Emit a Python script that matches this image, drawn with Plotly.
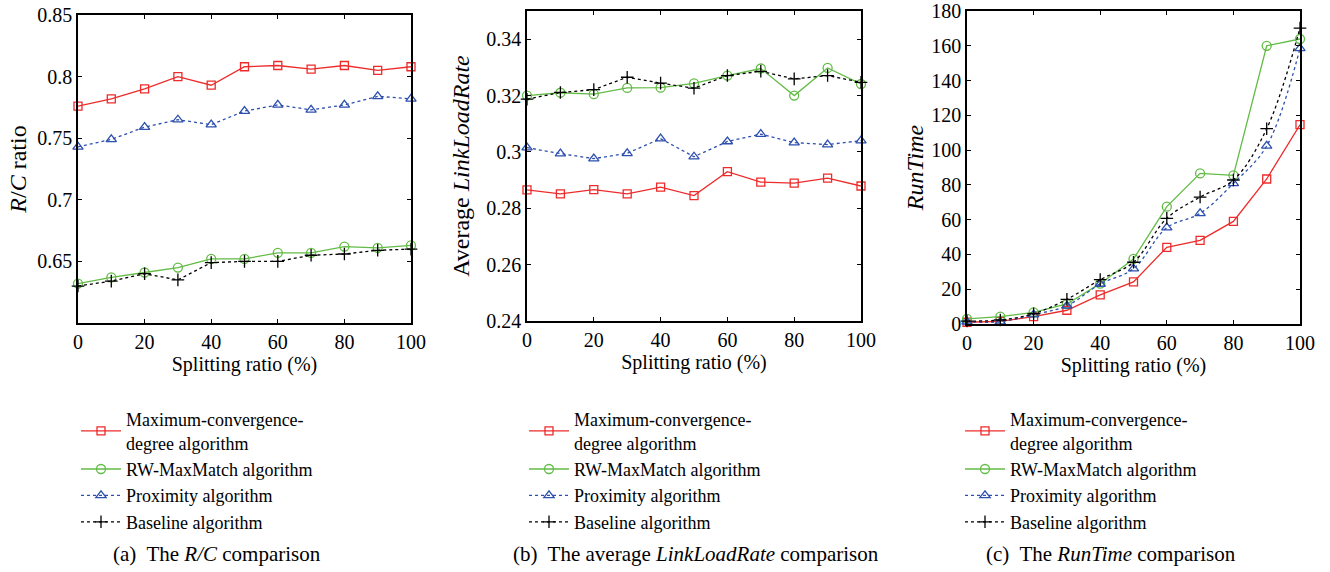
import plotly.graph_objects as go

x = [0, 10, 20, 30, 40, 50, 60, 70, 80, 90, 100]
names = ["Maximum-convergence-<br>degree algorithm", "RW-MaxMatch algorithm",
         "Proximity algorithm", "Baseline algorithm"]

# (a) R/C ratio
rc_max = [0.776, 0.782, 0.790, 0.800, 0.793, 0.808, 0.809, 0.806, 0.809, 0.805, 0.808]
rc_rw = [0.632, 0.637, 0.641, 0.645, 0.652, 0.652, 0.657, 0.657, 0.662, 0.661, 0.663]
rc_prox = [0.743, 0.749, 0.759, 0.765, 0.761, 0.772, 0.777, 0.773, 0.777, 0.784, 0.782]
rc_base = [0.630, 0.634, 0.640, 0.635, 0.649, 0.650, 0.650, 0.655, 0.656, 0.659, 0.660]

# (b) average LinkLoadRate
ll_max = [0.2865, 0.2851, 0.2866, 0.2851, 0.2875, 0.2845, 0.2930, 0.2893, 0.2889, 0.2907, 0.2879]
ll_rw = [0.3200, 0.3210, 0.3205, 0.3227, 0.3228, 0.3243, 0.3271, 0.3296, 0.3200, 0.3298, 0.3241]
ll_prox = [0.3015, 0.2994, 0.2976, 0.2995, 0.3047, 0.2983, 0.3037, 0.3063, 0.3033, 0.3026, 0.3040]
ll_base = [0.3187, 0.3211, 0.3221, 0.3265, 0.3244, 0.3226, 0.3271, 0.3286, 0.3259, 0.3271, 0.3247]

# (c) RunTime
rt_max = [1.0, 1.5, 4.2, 7.9, 16.7, 24.2, 44.1, 48.1, 59.0, 83.4, 114.6]
rt_rw = [2.9, 4.2, 6.7, 11.5, 23.2, 37.4, 67.5, 86.6, 85.5, 160.0, 163.9]
rt_prox = [1.3, 1.3, 5.4, 10.5, 23.0, 31.8, 55.4, 63.6, 80.9, 102.4, 158.5]
rt_base = [1.7, 2.3, 5.9, 14.2, 25.5, 35.5, 60.8, 73.0, 82.8, 112.3, 170.2]

RED = "#ee2b2b"
GREEN = "#62bb45"
BLUE = "#2d4fae"
BLACK = "#000000"
FONT = "Liberation Serif, Times New Roman, DejaVu Serif, serif"

W, H = 1330, 572

styles = [
    dict(color=RED, dash="solid", symbol="square-open", size=8),
    dict(color=GREEN, dash="solid", symbol="circle-open", size=9),
    dict(color=BLUE, dash="dot", symbol="triangle-up-open", size=9),
    dict(color=BLACK, dash="dot", symbol="cross-thin-open", size=9),
]

fig = go.Figure()

panels = [
    ([rc_max, rc_rw, rc_prox, rc_base], "x", "y", "legend", False),
    ([ll_max, ll_rw, ll_prox, ll_base], "x2", "y2", "legend2", False),
    ([rt_max, rt_rw, rt_prox, rt_base], "x3", "y3", "legend3", True),
]

for series, xa, ya, lg, curved in panels:
    for i, (vals, st) in enumerate(zip(series, styles)):
        shape = "spline" if (curved and st["dash"] == "dot") else "linear"
        fig.add_trace(go.Scatter(
            x=x, y=vals, xaxis=xa, yaxis=ya, legend=lg, name=names[i],
            mode="lines+markers", cliponaxis=False,
            line=dict(color=st["color"], dash=st["dash"], width=1.3, shape=shape),
            marker=dict(symbol=st["symbol"], size=st["size"], color=st["color"],
                        line=dict(color=st["color"], width=1.3)),
        ))

def fx(px):
    return px / W

def fy(py):
    return 1 - py / H

def px_x(a, b):
    return [fx(a), fx(b)]

def px_y(top, bottom):
    return [fy(bottom), fy(top)]

axis_common = dict(showline=True, linecolor="black", linewidth=1.5, mirror="ticks",
                   ticks="inside", ticklen=4, tickcolor="black", showgrid=False,
                   zeroline=False, automargin=False, ticklabeloverflow="allow",
                   tickfont=dict(family=FONT, size=20, color="black"))

xtitle = dict(text="Splitting ratio (%)", font=dict(family=FONT, size=20, color="black"), standoff=5)

fig.update_layout(
    template="none",
    width=W, height=H,
    margin=dict(l=0, r=0, t=0, b=0),
    paper_bgcolor="white", plot_bgcolor="white",
    font=dict(family=FONT, size=20, color="black"),
    xaxis=dict(domain=px_x(78, 411), range=[0, 100], tickvals=[0, 20, 40, 60, 80, 100],
               anchor="y", title=xtitle, **axis_common),
    yaxis=dict(domain=px_y(15, 323), range=[0.6, 0.85],
               tickvals=[0.65, 0.7, 0.75, 0.8, 0.85], ticktext=["0.65", "0.7", "0.75", "0.8", "0.85"],
               anchor="x", title=dict(text="<i>R</i>/<i>C</i> ratio", standoff=4), **axis_common),
    xaxis2=dict(domain=px_x(527, 861), range=[0, 100], tickvals=[0, 20, 40, 60, 80, 100],
                anchor="y2", title=xtitle, **axis_common),
    yaxis2=dict(domain=px_y(11, 321), range=[0.24, 0.35],
                tickvals=[0.24, 0.26, 0.28, 0.3, 0.32, 0.34],
                ticktext=["0.24", "0.26", "0.28", "0.3", "0.32", "0.34"],
                anchor="x2", title=dict(text="Average <i>LinkLoadRate</i>", standoff=10), **axis_common),
    xaxis3=dict(domain=px_x(967, 1300), range=[0, 100], tickvals=[0, 20, 40, 60, 80, 100],
                anchor="y3", title=xtitle, **axis_common),
    yaxis3=dict(domain=px_y(11, 324), range=[0, 180], dtick=20,
                anchor="x3", title=dict(text="<i>RunTime</i>", standoff=1), **axis_common),
)

leg_common = dict(orientation="v", xanchor="left", yanchor="top", bgcolor="rgba(0,0,0,0)",
                  font=dict(family=FONT, size=18, color="black"), tracegroupgap=0,
                  itemwidth=40)
fig.update_layout(
    legend=dict(x=fx(76), y=fy(401), **leg_common),
    legend2=dict(x=fx(524), y=fy(401), **leg_common),
    legend3=dict(x=fx(960), y=fy(401), **leg_common),
)

captions = [
    ("(a)  The <i>R/C</i> comparison", 217),
    ("(b)  The average <i>LinkLoadRate</i> comparison", 696),
    ("(c)  The <i>RunTime</i> comparison", 1111),
]
for txt, cx in captions:
    fig.add_annotation(text=txt, x=fx(cx), y=fy(554), xref="paper", yref="paper",
                       showarrow=False, xanchor="center", yanchor="middle",
                       font=dict(family=FONT, size=21, color="black"))

fig.write_html("out.html", config={"displayModeBar": False},
               post_script="document.body.style.margin='0';")
